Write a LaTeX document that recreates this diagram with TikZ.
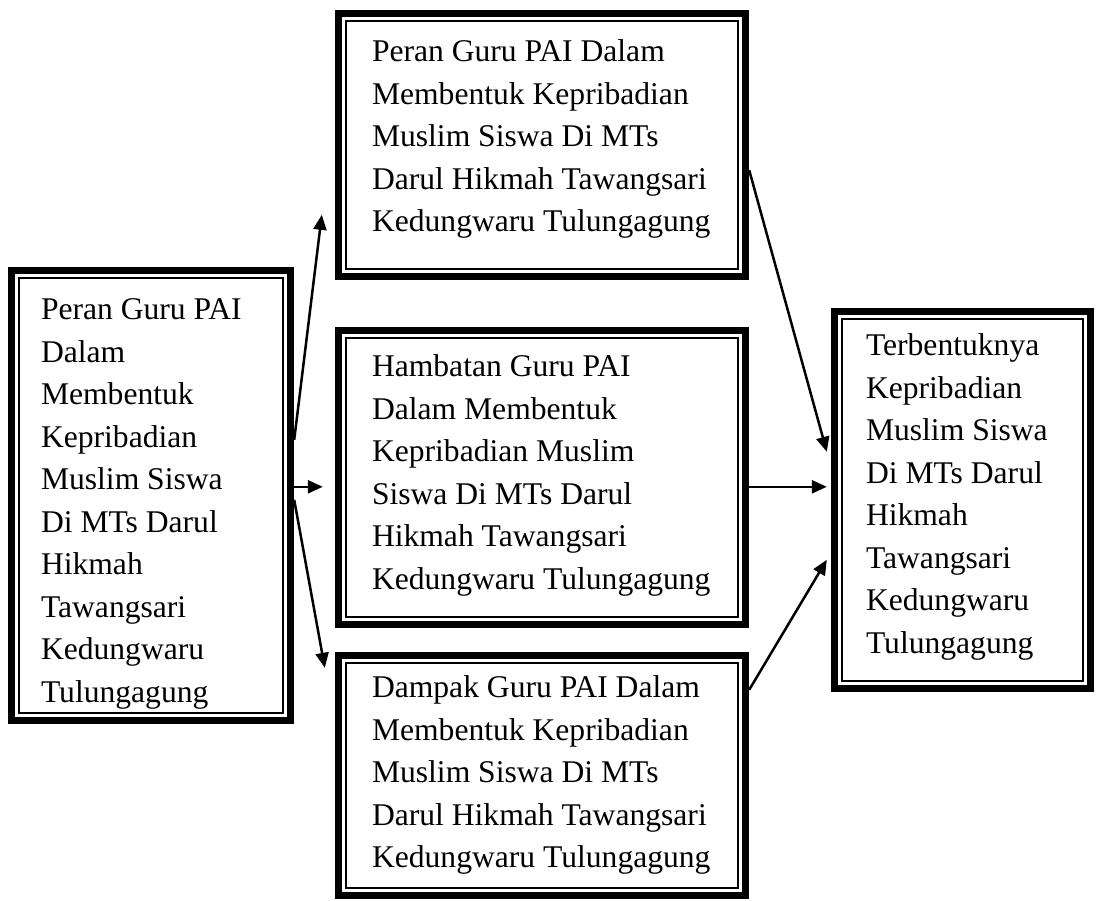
\documentclass[tikz,border=0pt]{standalone}
\usepackage{fontspec}
\setmainfont{Liberation Serif}
\usetikzlibrary{arrows.meta}
\newcommand\dblframe[1]{%
  \draw[line width=7pt] ([shift={(3.5,3.5)}]#1.north west) rectangle ([shift={(-3.5,-3.5)}]#1.south east);
  \draw[line width=2pt] ([shift={(11.5,11.5)}]#1.north west) rectangle ([shift={(-11.5,-11.5)}]#1.south east);}
\begin{document}
\begin{tikzpicture}[x=1pt,y=-1pt,
  box/.style={draw=none, inner sep=0pt},
  txt/.style={anchor=north west, inner sep=0pt, align=left, font=\fontsize{31.6}{42.5}\selectfont},
  arr/.style={line width=2.5pt, -{Triangle[length=15pt,width=13pt]}}]
\useasboundingbox (0,0) rectangle (1100,900);
% boxes
\node[box, minimum width=286pt, minimum height=457pt] (L) at (151,495.5) {};
\node[box, minimum width=414pt, minimum height=270pt] (T) at (542,145) {};
\node[box, minimum width=414pt, minimum height=301pt] (M) at (542,477.5) {};
\node[box, minimum width=414pt, minimum height=247pt] (B) at (542,775.5) {};
\node[box, minimum width=263pt, minimum height=384pt] (R) at (962.5,500) {};
\dblframe{L}\dblframe{T}\dblframe{M}\dblframe{B}\dblframe{R}
% texts
\node[txt] (Lt) at ([shift={(33,23)}]L.north west) {\strut Peran Guru PAI\\Dalam\\Membentuk\\Kepribadian\\Muslim Siswa\\Di MTs Darul\\Hikmah\\Tawangsari\\Kedungwaru\\Tulungagung};
\node[txt] (Tt) at ([shift={(37,22)}]T.north west) {\strut Peran Guru PAI Dalam\\Membentuk Kepribadian\\Muslim Siswa Di MTs\\Darul Hikmah Tawangsari\\Kedungwaru Tulungagung};
\node[txt] (Mt) at ([shift={(37,20)}]M.north west) {\strut Hambatan Guru PAI\\Dalam Membentuk\\Kepribadian Muslim\\Siswa Di MTs Darul\\Hikmah Tawangsari\\Kedungwaru Tulungagung};
\node[txt] (Bt) at ([shift={(37,16)}]B.north west) {\strut Dampak Guru PAI Dalam\\Membentuk Kepribadian\\Muslim Siswa Di MTs\\Darul Hikmah Tawangsari\\Kedungwaru Tulungagung};
\node[txt] (Rt) at ([shift={(35,18)}]R.north west) {\strut Terbentuknya\\Kepribadian\\Muslim Siswa\\Di MTs Darul\\Hikmah\\Tawangsari\\Kedungwaru\\Tulungagung};
% connectors
\draw[arr] ([shift={(0,173)}]L.north east) -- ([shift={(-13,205)}]T.north west);
\draw[arr] ([shift={(0,220)}]L.north east) -- ([shift={(-12,160)}]M.north west);
\draw[arr] ([shift={(0,233)}]L.north east) -- ([shift={(-10,16)}]B.north west);
\draw[arr] ([shift={(0,-110)}]T.south east) -- ([shift={(-4,144)}]R.north west);
\draw[arr] ([shift={(0,160)}]M.north east) -- ([shift={(-4,179)}]R.north west);
\draw[arr] ([shift={(0,38)}]B.north east) -- ([shift={(-4,252)}]R.north west);
\end{tikzpicture}
\end{document}
